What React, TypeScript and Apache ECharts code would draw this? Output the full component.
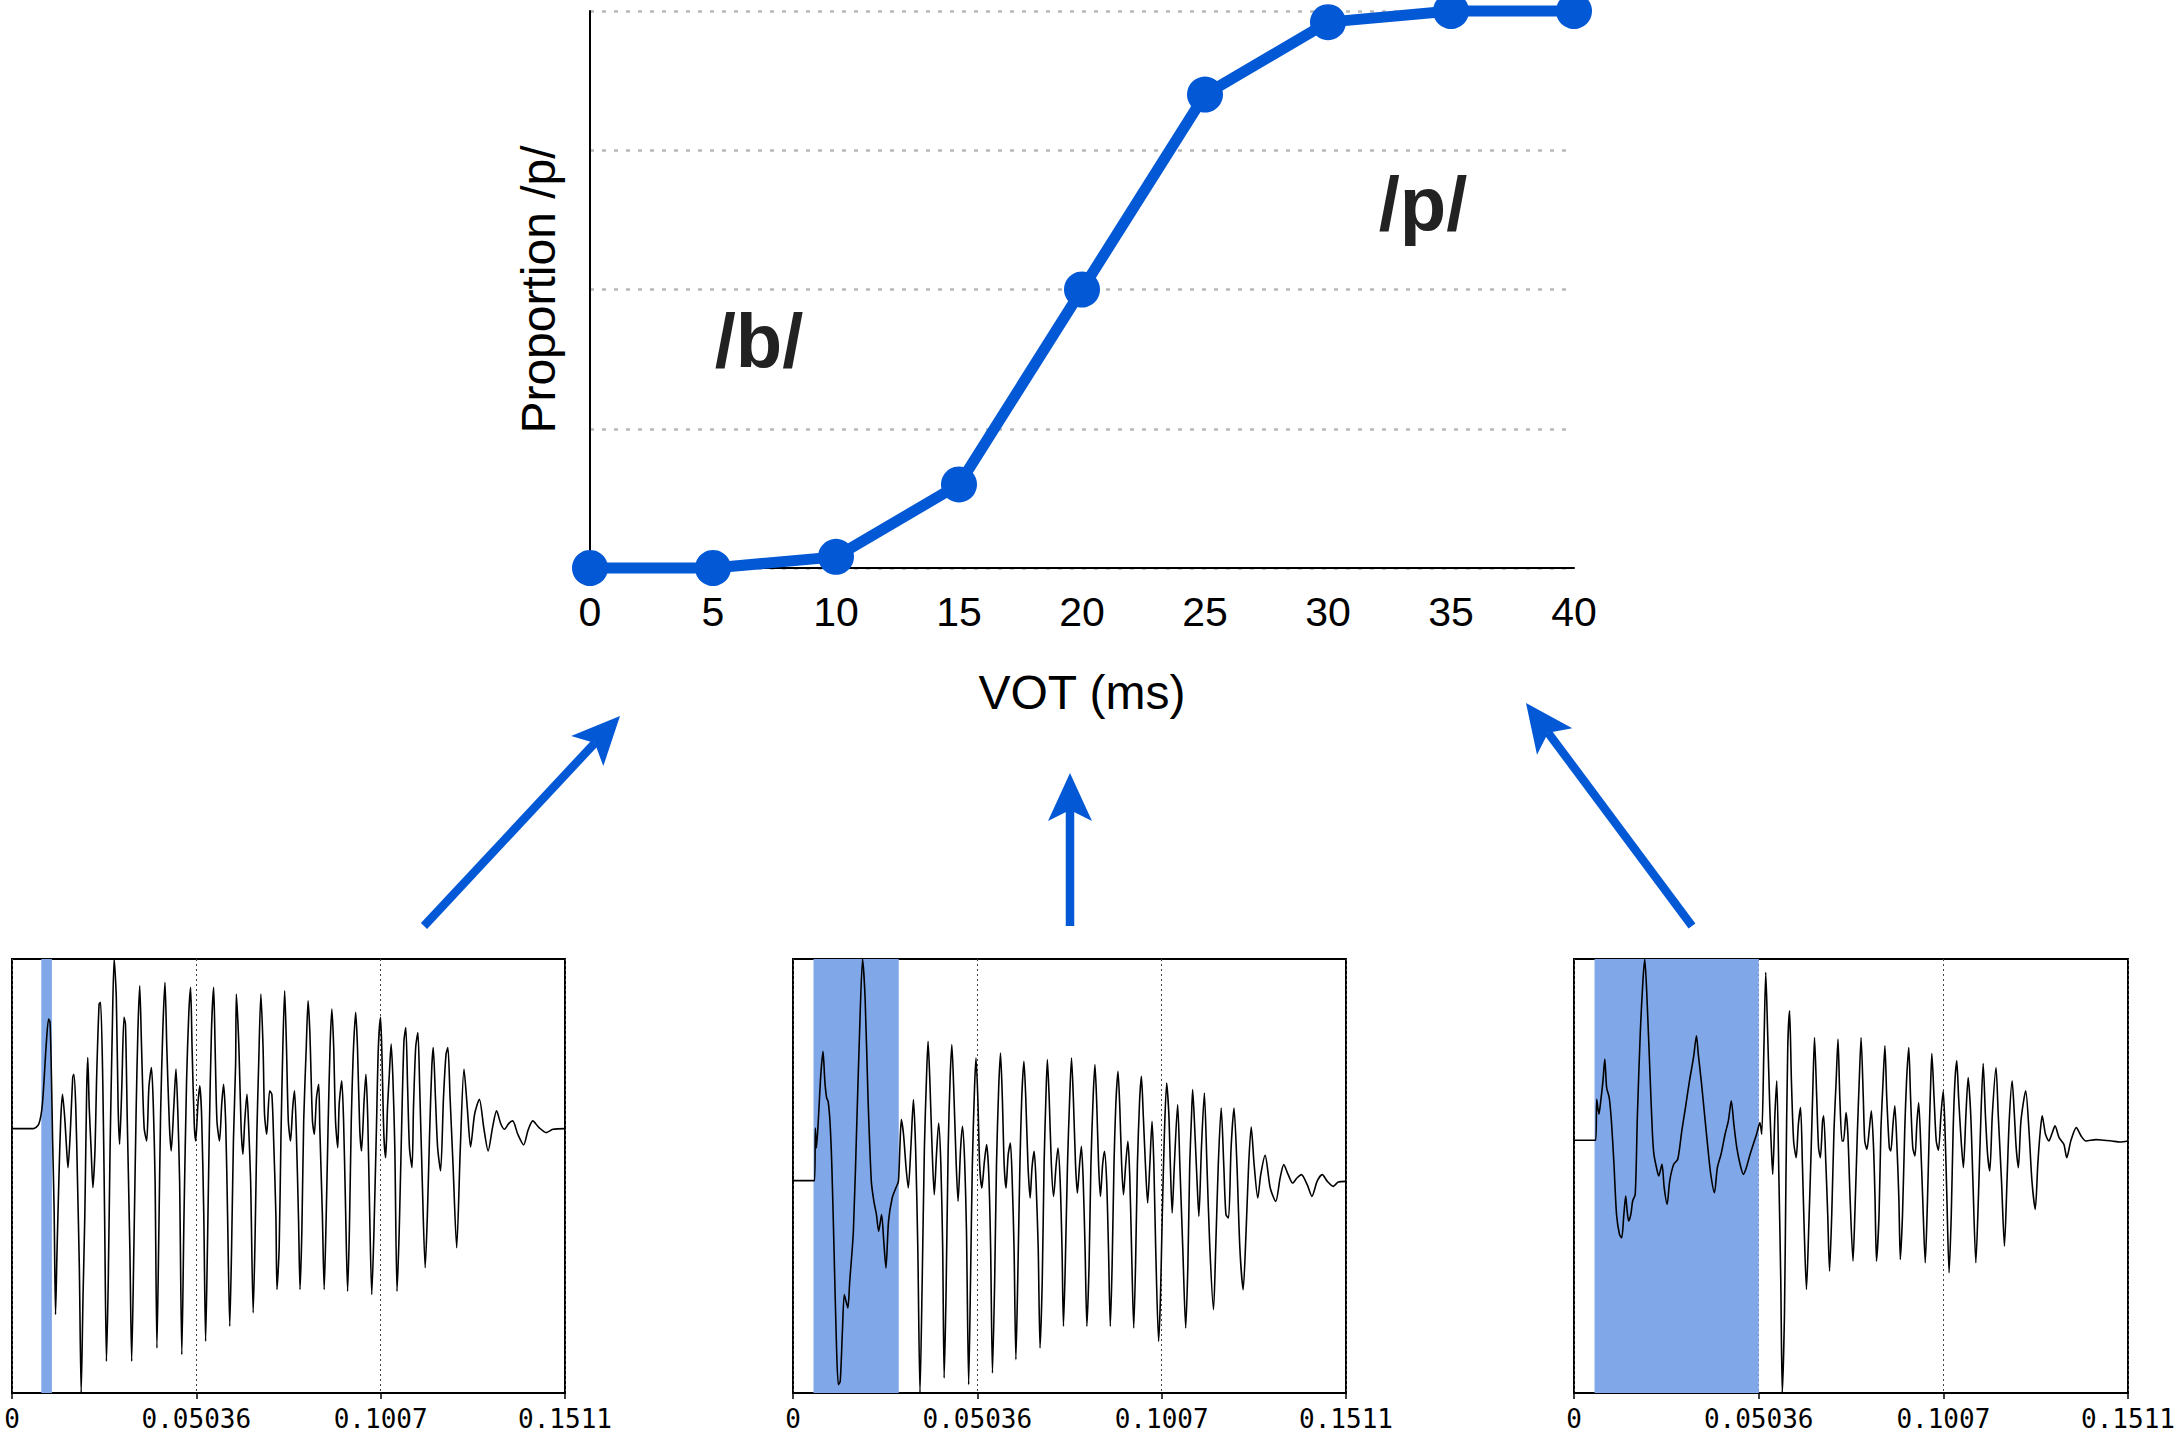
import React, { useEffect, useRef } from 'react';
import * as echarts from 'echarts';

// ---------- main identification curve ----------
const votMs = [0, 5, 10, 15, 20, 25, 30, 35, 40];
const proportionP = [0, 0, 0.02, 0.15, 0.5, 0.85, 0.98, 1, 1];
const categoryLabels = ['/b/', '/p/'];

// ---------- waveform panels (time in ms, amplitude in arbitrary units) ----------
const waveTickLabels = ['0', '0.05036', '0.1007', '0.1511'];
const waveDurationMs = 151.1;
const voicingBands: [number, number][] = [[8.0, 10.9], [5.6, 28.9], [5.6, 50.4]];

const wave1: [number, number][] = [[0,0],[5.8,0],[7.3,13],[8.3,73],[9.3,243],[10.0,328],[10.4,318],[10.8,143],[11.1,-37],[11.5,-237],[11.9,-557],[12.3,-367],[12.8,-157],[13.3,23],[13.8,103],[14.4,33],[14.9,-57],[15.3,-117],[15.9,-17],[16.6,153],[16.9,163],[17.4,73],[17.9,-157],[18.4,-417],[18.9,-792],[19.4,-507],[19.9,-257],[20.4,113],[20.7,213],[21.1,63],[21.6,-57],[22.1,-177],[22.7,-57],[23.1,143],[23.8,373],[24.2,378],[24.8,143],[25.3,-257],[25.8,-697],[26.3,-457],[26.8,-57],[27.4,293],[27.9,508],[28.5,393],[29.0,63],[29.4,-47],[30.0,123],[30.6,333],[31.0,313],[31.5,23],[32.2,-357],[32.7,-697],[33.3,-357],[33.9,43],[34.4,293],[34.9,428],[35.4,243],[36.1,3],[36.8,-37],[37.4,123],[38.1,183],[38.6,73],[39.1,-157],[39.6,-657],[40.1,-327],[40.6,43],[41.2,293],[41.8,438],[42.3,243],[43.0,13],[43.5,-67],[44.2,63],[44.8,178],[45.3,53],[45.8,-157],[46.4,-677],[47.0,-257],[47.7,143],[48.3,343],[48.8,423],[49.2,243],[49.8,13],[50.2,-37],[50.8,73],[51.3,128],[51.8,43],[52.4,-257],[52.9,-637],[53.4,-357],[53.9,-17],[54.5,293],[55.1,423],[55.5,243],[56.0,23],[56.7,-37],[57.3,73],[57.8,133],[58.4,13],[58.9,-257],[59.5,-592],[60.0,-357],[60.5,-37],[61.1,193],[61.3,403],[62.0,243],[62.6,3],[63.1,-77],[63.6,23],[64.2,103],[64.6,23],[65.2,-157],[65.9,-552],[66.4,-337],[66.9,-17],[67.4,193],[68.0,403],[68.6,243],[69.0,43],[69.6,-17],[70.4,113],[71.0,103],[71.5,-37],[72.1,-257],[72.4,-482],[73.0,-357],[73.5,-17],[74.0,243],[74.5,413],[75.0,243],[75.5,23],[76.1,-37],[76.7,63],[77.2,113],[77.7,-17],[78.3,-277],[78.7,-482],[79.2,-307],[79.7,23],[80.4,243],[80.9,383],[81.4,283],[82.1,23],[82.6,-17],[83.2,93],[83.8,133],[84.1,3],[84.8,-257],[85.3,-482],[85.8,-287],[86.4,23],[86.9,243],[87.4,358],[87.9,243],[88.4,23],[89.0,-57],[89.4,73],[90.1,143],[90.6,23],[91.1,-217],[91.7,-487],[92.2,-297],[92.7,23],[93.2,213],[93.9,348],[94.4,243],[95.0,3],[95.5,-67],[96.2,83],[96.7,163],[97.2,33],[97.7,-237],[98.3,-497],[98.9,-307],[99.6,13],[100.1,243],[100.7,333],[101.1,213],[101.6,-17],[102.1,-87],[102.6,63],[103.1,163],[103.6,253],[104.1,143],[104.6,-57],[105.2,-487],[105.8,-307],[106.5,23],[107.1,263],[107.6,303],[108.1,123],[108.6,-57],[109.3,-117],[109.7,63],[110.3,243],[110.9,288],[111.4,123],[112.1,-157],[112.9,-417],[113.5,-257],[114.1,-17],[114.7,183],[115.1,243],[115.7,93],[116.3,-57],[117.1,-127],[117.9,93],[118.6,223],[119.1,243],[119.7,93],[120.5,-107],[121.5,-357],[122.5,-57],[123.5,178],[124.4,63],[125.3,-55],[126.4,43],[127.7,88],[128.9,3],[130.1,-67],[131.3,3],[132.4,53],[133.6,13],[134.6,-2],[135.7,15],[136.8,23],[138.2,-17],[139.8,-49],[141.0,-5],[142.3,23],[144.0,3],[146.0,-12],[147.8,-2],[151.1,0]];

const wave2: [number, number][] = [[0,0],[5.9,0],[6.1,158],[6.4,98],[6.9,178],[7.6,318],[8.2,388],[8.7,298],[9.2,248],[9.6,238],[10.1,178],[10.6,48],[11.2,-202],[11.9,-502],[12.4,-612],[12.9,-602],[13.5,-452],[14.0,-342],[14.5,-362],[15.0,-382],[15.5,-302],[16.5,-152],[17.5,198],[18.2,448],[19.0,665],[19.7,548],[20.5,248],[21.4,-2],[22.1,-62],[22.8,-102],[23.4,-152],[24.2,-102],[24.8,-182],[25.4,-262],[26.1,-122],[27.1,-52],[28.1,-22],[28.8,-2],[29.2,98],[29.6,183],[30.2,138],[30.9,38],[31.5,-22],[32.2,98],[32.9,243],[33.5,98],[34.1,-202],[34.7,-637],[35.3,-302],[35.9,98],[36.5,318],[36.9,418],[37.4,298],[38.0,98],[38.6,-42],[39.2,78],[39.8,173],[40.4,48],[40.9,-202],[41.3,-592],[41.8,-352],[42.4,98],[42.9,298],[43.4,408],[44.0,248],[44.6,48],[45.1,-62],[45.8,98],[46.3,163],[46.9,58],[47.4,-152],[48.0,-612],[48.5,-302],[49.0,48],[49.6,278],[50.0,368],[50.5,248],[51.0,48],[51.6,-22],[52.3,58],[52.9,108],[53.5,18],[54.0,-202],[54.5,-577],[55.1,-302],[55.6,48],[56.2,278],[56.7,383],[57.2,248],[57.7,48],[58.2,-22],[58.8,78],[59.4,113],[59.9,-2],[60.4,-202],[60.9,-537],[61.4,-302],[62.0,48],[62.5,248],[63.1,358],[63.6,248],[64.2,48],[64.8,-52],[65.3,38],[65.9,88],[66.4,-2],[67.0,-202],[67.5,-502],[68.1,-302],[68.6,48],[69.1,248],[69.5,363],[70.0,248],[70.6,48],[71.2,-47],[71.9,48],[72.4,98],[73.0,-2],[73.5,-202],[73.9,-437],[74.4,-252],[75.0,48],[75.6,248],[76.1,368],[76.6,248],[77.2,48],[77.7,-37],[78.3,48],[78.8,103],[79.3,-2],[79.8,-202],[80.3,-437],[80.9,-252],[81.4,48],[82.0,248],[82.5,348],[83.0,228],[83.5,48],[84.0,-47],[84.6,48],[85.1,88],[85.7,-2],[86.2,-202],[86.7,-437],[87.2,-252],[87.7,48],[88.2,228],[88.8,328],[89.3,218],[89.8,48],[90.3,-42],[90.9,48],[91.5,118],[92.0,18],[92.5,-202],[93.1,-442],[93.6,-252],[94.1,48],[94.7,238],[95.2,313],[95.7,198],[96.3,48],[96.9,-67],[97.5,48],[98.1,178],[98.6,48],[99.1,-202],[99.9,-482],[100.4,-352],[100.9,-102],[101.5,148],[102.1,293],[102.7,198],[103.1,48],[103.6,-97],[104.2,48],[105.1,228],[105.7,48],[106.5,-202],[107.3,-442],[107.9,-252],[108.4,48],[108.9,198],[109.2,273],[109.8,148],[110.4,-2],[110.9,-107],[111.6,98],[112.4,263],[113.1,48],[113.9,-202],[114.9,-387],[115.5,-202],[116.2,48],[117.0,218],[117.7,48],[118.3,-102],[119.0,-112],[119.7,98],[120.5,218],[121.3,48],[122.1,-202],[123.0,-327],[123.8,-152],[124.5,48],[125.2,161],[126.0,48],[127.0,-52],[127.8,18],[129.0,76],[130.4,-22],[131.9,-62],[133.1,8],[134.1,48],[135.3,18],[136.5,-7],[137.7,8],[138.9,18],[140.5,-12],[141.8,-47],[143.2,-2],[144.6,18],[146.0,-2],[147.6,-17],[149.0,-4],[151.1,-2]];

const wave3: [number, number][] = [[0,0],[5.9,0],[6.2,123],[6.8,78],[7.3,118],[7.9,178],[8.4,243],[8.9,158],[9.6,128],[10.2,58],[10.9,-72],[11.6,-222],[12.4,-282],[13.0,-292],[13.6,-222],[14.1,-167],[14.5,-212],[14.9,-242],[15.5,-222],[16.0,-182],[16.7,-162],[17.3,78],[18.1,328],[18.8,478],[19.3,543],[19.9,428],[20.8,178],[21.4,18],[21.8,-42],[22.5,-82],[23.1,-107],[24.0,-72],[24.6,-142],[25.4,-192],[26.1,-122],[27.2,-72],[28.3,-57],[29.4,28],[30.4,98],[31.5,178],[32.6,248],[33.4,313],[33.9,258],[34.8,168],[35.6,78],[36.5,-22],[37.3,-102],[38.3,-157],[39.1,-82],[40.1,-42],[41.2,18],[42.1,58],[42.9,118],[43.6,48],[44.4,-22],[45.3,-72],[46.2,-102],[47.0,-82],[47.9,-47],[48.9,-12],[49.8,18],[50.7,53],[51.2,18],[51.8,278],[52.3,503],[52.8,328],[53.4,98],[53.9,-42],[54.2,-102],[54.8,78],[55.3,178],[55.9,-122],[56.4,-422],[56.8,-757],[57.4,-522],[57.8,-122],[58.3,278],[58.8,388],[59.3,178],[59.9,-2],[60.6,-52],[61.2,48],[61.8,98],[62.3,-72],[62.8,-272],[63.4,-447],[64.0,-272],[64.7,-22],[65.2,178],[65.6,308],[66.2,128],[66.7,-22],[67.2,-52],[67.8,58],[68.1,73],[68.7,-72],[69.2,-222],[69.7,-392],[70.3,-222],[70.9,28],[71.5,178],[72.0,303],[72.5,128],[73.1,-2],[73.5,-2],[74.2,83],[74.7,18],[75.3,-172],[76.1,-362],[76.6,-222],[77.3,28],[77.8,178],[78.3,308],[78.9,128],[79.3,-2],[79.9,-27],[80.5,28],[81.1,88],[81.7,-22],[82.1,-172],[82.5,-362],[83.2,-222],[83.7,28],[84.3,178],[84.8,283],[85.3,128],[86.0,-22],[86.4,-32],[87.0,48],[87.5,103],[88.1,-22],[88.6,-172],[89.0,-357],[89.6,-222],[90.2,28],[90.7,178],[91.3,278],[91.8,128],[92.4,-22],[93.0,-47],[93.5,48],[94.0,113],[94.6,-22],[95.1,-172],[95.8,-367],[96.3,-222],[96.9,28],[97.3,178],[97.6,260],[98.2,128],[98.8,-2],[99.4,-30],[100.1,78],[100.7,148],[101.2,28],[101.7,-172],[102.3,-397],[102.9,-222],[103.4,28],[103.9,178],[104.4,238],[104.9,128],[105.6,-2],[106.2,-82],[106.9,78],[107.5,188],[108.2,78],[108.8,-122],[109.6,-367],[110.3,-172],[111.0,78],[111.6,230],[112.2,78],[112.8,-42],[113.4,-92],[114.1,78],[115.1,218],[115.7,78],[116.6,-122],[117.4,-317],[118.1,-122],[118.7,58],[119.5,178],[120.1,78],[120.6,-22],[121.2,-82],[121.9,58],[123.2,148],[124.1,28],[124.9,-122],[125.8,-207],[126.5,-72],[127.1,18],[127.7,73],[128.6,18],[129.5,-2],[130.3,18],[131.2,43],[132.3,8],[133.6,-12],[134.4,-52],[135.5,-2],[137.0,38],[138.3,13],[139.6,-2],[142.4,2],[144.5,0],[146.7,-2],[148.9,-5],[151.1,-2]];

const waves = [wave1, wave2, wave3];

const BLUE = '#0358d6';
const BAND = '#80a8e8';

function arrow(x1: number, y1: number, x2: number, y2: number) {
  const dx = x2 - x1, dy = y2 - y1;
  const L = Math.hypot(dx, dy);
  const ux = dx / L, uy = dy / L;
  const px = -uy, py = ux;
  const headLen = 48, headHalf = 22, notch = 37;
  const nx = x2 - ux * notch, ny = y2 - uy * notch;
  const bx = x2 - ux * headLen, by = y2 - uy * headLen;
  return [
    { type: 'line', shape: { x1, y1, x2: nx, y2: ny }, style: { stroke: BLUE, lineWidth: 8.5 } },
    {
      type: 'polygon',
      shape: { points: [[x2, y2], [bx + px * headHalf, by + py * headHalf], [nx, ny], [bx - px * headHalf, by - py * headHalf]] },
      style: { fill: BLUE },
    },
  ];
}

export default function App() {
  const ref = useRef<HTMLDivElement>(null);
  useEffect(() => {
    if (!ref.current) return;
    const chart = echarts.init(ref.current, null, { renderer: 'svg' });

    const panelLefts = [12, 793, 1574];
    const panelWidths = [553, 553, 554];

    const grids: any[] = [{ left: 590, top: 11, width: 984, height: 557 }];
    const xAxes: any[] = [{
      gridIndex: 0, type: 'value', min: 0, max: 40, interval: 5,
      axisLine: { show: true, onZero: false, lineStyle: { color: '#000', width: 2 } },
      axisTick: { show: false },
      splitLine: { show: false },
      axisLabel: { color: '#000', fontSize: 41, fontFamily: 'Liberation Sans', margin: 23 },
      name: 'VOT (ms)', nameLocation: 'middle', nameGap: 100,
      nameTextStyle: { color: '#000', fontSize: 48, fontFamily: 'Liberation Sans' },
    }];
    const yAxes: any[] = [{
      gridIndex: 0, type: 'value', min: 0, max: 1, interval: 0.25,
      axisLine: { show: true, lineStyle: { color: '#000', width: 2 } },
      axisTick: { show: false },
      axisLabel: { show: false },
      splitLine: { show: true, lineStyle: { color: '#b8b8b8', width: 2.5, type: [4, 8] } },
      name: 'Proportion /p/', nameLocation: 'middle', nameGap: 28, nameRotate: 90,
      nameTextStyle: { color: '#000', fontSize: 48, fontFamily: 'Liberation Sans' },
    }];
    const series: any[] = [{
      type: 'line', xAxisIndex: 0, yAxisIndex: 0,
      data: votMs.map((v, i) => [v, proportionP[i]]),
      symbol: 'circle', symbolSize: 36, clip: false,
      lineStyle: { color: BLUE, width: 11 },
      itemStyle: { color: BLUE },
      z: 10,
    }];

    const tickStep = waveDurationMs / 3;
    waves.forEach((w, i) => {
      const gi = i + 1;
      grids.push({
        left: panelLefts[i], top: 959, width: panelWidths[i], height: 434,
        show: true, borderColor: '#000', borderWidth: 2, backgroundColor: 'transparent',
      });
      xAxes.push({
        gridIndex: gi, type: 'value', min: 0, max: waveDurationMs, interval: tickStep,
        axisLine: { show: true, onZero: false, lineStyle: { color: '#000', width: 2 } },
        axisTick: { show: true, length: 6, lineStyle: { color: '#000', width: 1.5 } },
        splitLine: { show: true, lineStyle: { color: '#444', width: 1, type: [2, 3] } },
        axisLabel: {
          color: '#000', fontSize: 26, fontFamily: 'DejaVu Sans Mono', margin: 13,
          showMinLabel: true, showMaxLabel: true,
          formatter: (v: number) => waveTickLabels[Math.round(v / tickStep)] ?? '',
        },
      });
      yAxes.push({
        gridIndex: gi, type: 'value', min: 'dataMin', max: 'dataMax', show: false,
        axisLine: { onZero: false },
        splitLine: { show: false },
      });
      series.push({
        type: 'line', xAxisIndex: gi, yAxisIndex: gi, data: w,
        symbol: 'none', smooth: 0.25,
        lineStyle: { color: '#000', width: 1.6 },
        markArea: {
          silent: true,
          itemStyle: { color: BAND, opacity: 1 },
          data: [[{ xAxis: voicingBands[i][0] }, { xAxis: voicingBands[i][1] }]],
        },
        z: 5,
      });
    });

    const labelStyle = { fill: '#222', font: 'bold 76px "Liberation Sans"', textAlign: 'center', textVerticalAlign: 'middle' };

    chart.setOption({
      animation: false,
      backgroundColor: '#fff',
      grid: grids,
      xAxis: xAxes,
      yAxis: yAxes,
      series,
      graphic: [
        { type: 'text', x: 759, y: 340, style: { ...labelStyle, text: categoryLabels[0] }, z: 20 },
        { type: 'text', x: 1423, y: 203, style: { ...labelStyle, text: categoryLabels[1] }, z: 20 },
        ...arrow(424, 926, 620, 716),
        ...arrow(1070, 926, 1070, 773),
        ...arrow(1692, 926, 1526, 703),
      ],
    });
    return () => chart.dispose();
  }, []);
  return <div ref={ref} style={{ position: 'absolute', left: 0, top: 0, width: 2178, height: 1439 }} />;
}
